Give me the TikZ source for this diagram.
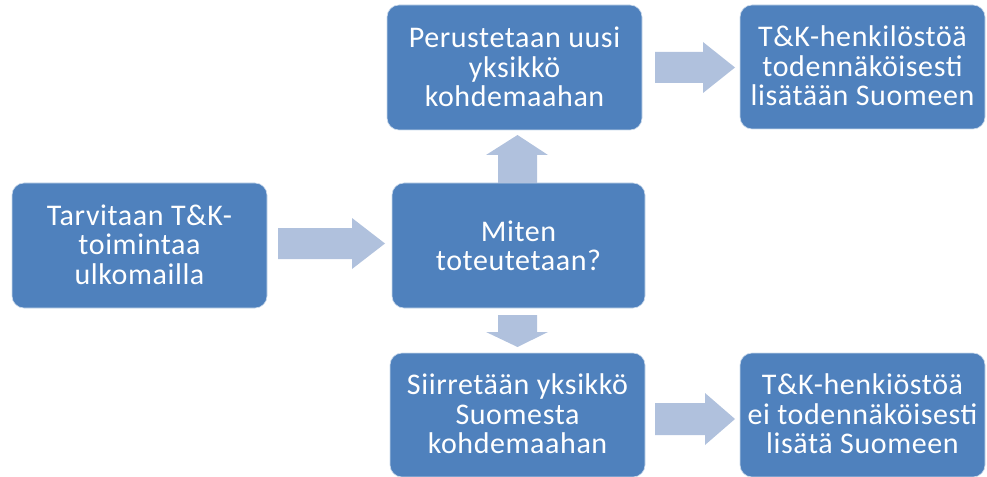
\documentclass[tikz,border=0pt]{standalone}
\usepackage{fontspec}
\setmainfont[LetterSpace=2]{Carlito}
\definecolor{boxblue}{HTML}{4F81BD}
\definecolor{arrowblue}{HTML}{B0C1DD}
\begin{document}
\begin{tikzpicture}[x=0.75pt,y=-0.75pt,
  box/.style={draw=white!70!boxblue, line width=0.5pt, fill=boxblue, rounded corners=9pt},
  label/.style={text=white, align=center, inner sep=0pt, font=\fontsize{22.5}{22}\selectfont},
  blockarrow/.style={fill=arrowblue, draw=none}]
\useasboundingbox (0,0) rectangle (987,477);
% boxes
\path[box] (12,183) rectangle (267,308);
\node[label] (a) at (139.5,244.5) {Tarvitaan T\&K-\\toimintaa\\ulkomailla};
\path[box] (392,183) rectangle (645,308);
\node[label] (b) at (518.5,245.5) {Miten\\toteutetaan?};
\path[box] (387,5) rectangle (642,130);
\node[label] (c) at (514.5,67) {Perustetaan uusi\\yksikkö\\kohdemaahan};
\path[box] (390,353) rectangle (645,477);
\node[label] (d) at (517.5,414) {Siirretään yksikkö\\Suomesta\\kohdemaahan};
\path[box] (740,5) rectangle (985,129);
\node[label] (e) at (862.5,66) {T\&K-henkilöstöä\\todennäköisesti\\lisätään Suomeen};
\path[box] (740,353) rectangle (985,477);
\node[label] (f) at (862.5,414) {T\&K-henkiöstöä\\ei todennäköisesti\\lisätä Suomeen};
% block arrows
\path[blockarrow] (278,228) -- (352,228) -- (352,218) -- (385,243.5) -- (352,269) -- (352,259) -- (278,259) -- cycle;
\path[blockarrow] (498,183) -- (498,155) -- (486,155) -- (517.5,135) -- (548,155) -- (537,155) -- (537,183) -- cycle;
\path[blockarrow] (498,315) -- (537,315) -- (537,332) -- (548,332) -- (517.5,347) -- (486,332) -- (498,332) -- cycle;
\path[blockarrow] (655,52) -- (703,52) -- (703,42) -- (735,67.5) -- (703,93) -- (703,83) -- (655,83) -- cycle;
\path[blockarrow] (655,403) -- (705,403) -- (705,393) -- (735,419) -- (705,445) -- (705,435) -- (655,435) -- cycle;
\end{tikzpicture}
\end{document}
